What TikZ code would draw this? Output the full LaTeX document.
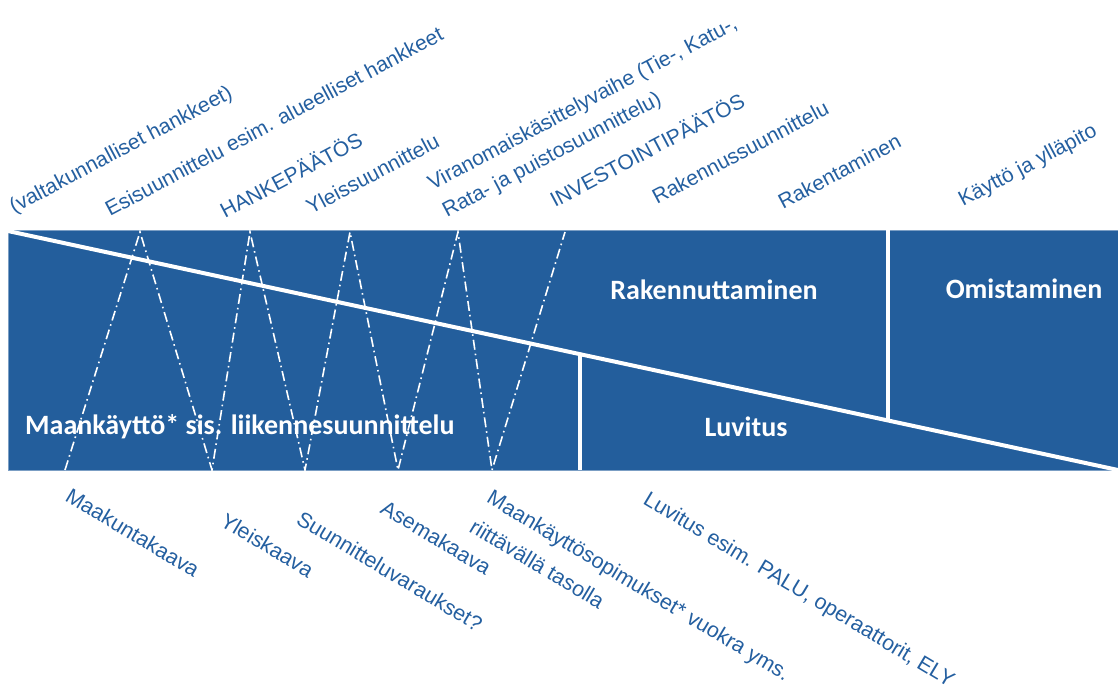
\documentclass[tikz,border=0pt]{standalone}
\usepackage{fontspec}
\setmainfont{Liberation Sans}
\newfontfamily\carl{Carlito}
\definecolor{bandblue}{RGB}{35,94,156}
\definecolor{txtblue}{RGB}{36,95,160}
\begin{document}
\begin{tikzpicture}[x=1pt,y=-1pt,
  toplab/.style={anchor=base west, inner sep=0pt, rotate=28, text=txtblue,
    font=\fontsize{21}{31}\selectfont, align=left},
  botlab/.style={anchor=base west, inner sep=0pt, rotate=-31, text=txtblue,
    font=\fontsize{21.4}{34}\selectfont, align=left},
  bandlab/.style={text=white, font=\carl\bfseries\fontsize{28}{30}\selectfont, inner sep=0pt},
  sepline/.style={white, line width=4pt},
  zig/.style={white, line width=1.6pt, dash pattern=on 10pt off 4pt on 1.6pt off 4pt}
]
\useasboundingbox (0,0) rectangle (1118,691);
% band
\fill[bandblue] (8,230) rectangle (1118,470);
\draw[bandblue!60!white, line width=0.8pt] (8,230) rectangle (1118,470);
\coordinate (dA) at (8,231);
\coordinate (dB) at (1118,470);
\coordinate (v1top) at (580,354.2);
\coordinate (v1bot) at (580,470);
\coordinate (v2top) at (888,230);
\coordinate (v2bot) at (888,420.5);
% zigzag
\coordinate (b1) at (65,470);
\coordinate (t1) at (140,232);
\coordinate (b2) at (212,470);
\coordinate (t2) at (250,232);
\coordinate (b3) at (305,470);
\coordinate (t3) at (350,232);
\coordinate (b4) at (398,470);
\coordinate (t4) at (458,232);
\coordinate (b5) at (492,470);
\coordinate (t5) at (565,232);
\begin{scope}
\clip (8,230) rectangle (1118,470);
\draw[zig] (b1) -- (t1) -- (b2) -- (t2) -- (b3) -- (t3) -- (b4) -- (t4) -- (b5) -- (t5);
\draw[sepline] (dA) -- (dB);
\draw[sepline] (v1top) -- (v1bot);
\draw[sepline] (v2top) -- (v2bot);
\end{scope}
% band labels
\node[bandlab, anchor=west] (maank) at (25,427) {Maankäyttö* sis. liikennesuunnittelu};
\node[bandlab] (raken) at (714,289.5) {Rakennuttaminen};
\node[bandlab] (omist) at (1024,289) {Omistaminen};
\node[bandlab] (luvit) at (746,427) {Luvitus};
% top labels
\node[toplab] (l1) at (14,214) {(valtakunnalliset hankkeet)};
\node[toplab] (l2) at (110,217) {Esisuunnittelu esim. alueelliset hankkeet};
\node[toplab] (l3) at (225,219) {HANKEPÄÄTÖS};
\node[toplab] (l4) at (311,215) {Yleissuunnittelu};
\node[toplab] (l5) at (447,218) {Viranomaiskäsittelyvaihe (Tie-, Katu-,\\Rata- ja puistosuunnittelu)};
\node[toplab] (l6) at (555,208) {INVESTOINTIPÄÄTÖS};
\node[toplab] (l7) at (657,205) {Rakennussuunnittelu};
\node[toplab] (l8) at (783,210) {Rakentaminen};
\node[toplab] (l9) at (963,207) {Käyttö ja ylläpito};
% bottom labels
\node[botlab] (m1) at (64,500) {Maakuntakaava};
\node[botlab] (m2) at (219,525) {Yleiskaava};
\node[botlab] (m3) at (295,523) {Suunnitteluvaraukset?};
\node[botlab] (m4) at (379,512) {Asemakaava};
\node[botlab] (m5) at (468,531) {Maankäyttösopimukset* vuokra yms.\\riittävällä tasolla};
\node[botlab] (m6) at (642,503) {Luvitus esim. PALU, operaattorit, ELY};
\end{tikzpicture}
\end{document}
